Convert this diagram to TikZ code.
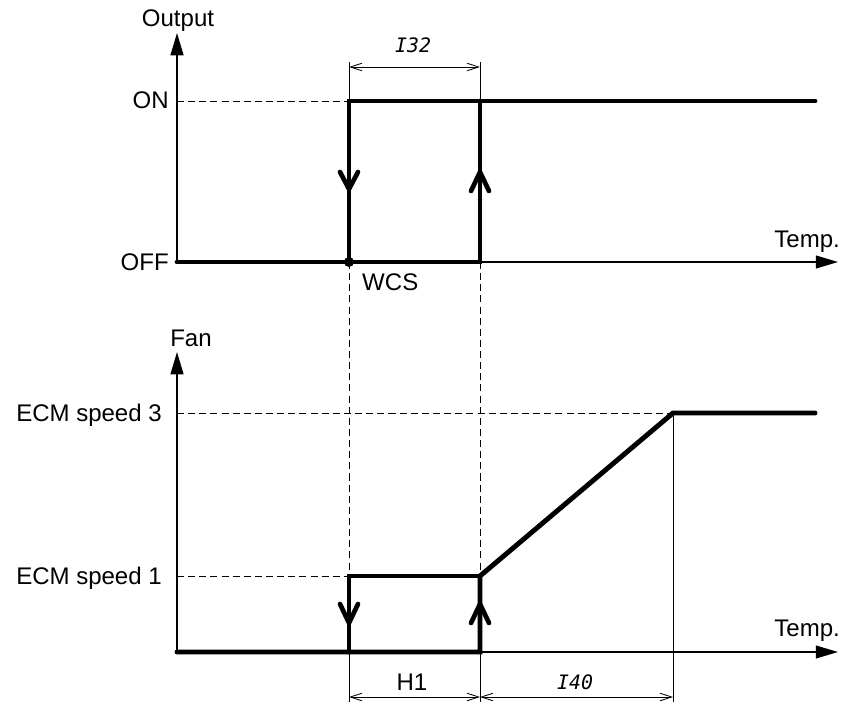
\documentclass[tikz,border=0pt]{standalone}
\usepackage{fontspec}
\setmainfont{Liberation Sans}
\newfontfamily\segfont{DejaVu Sans Mono}
\usetikzlibrary{arrows.meta}
\begin{document}
\begin{tikzpicture}[x=0.03cm, y=-0.03cm,
    lbl/.style={font=\fontsize{20.5}{24}\selectfont, inner sep=0pt},
    par/.style={font=\segfont\itshape\fontsize{17}{20}\selectfont, inner sep=0pt},
    axis/.style={line width=1.3pt, -{Triangle[length=19pt, width=11pt]}},
    sig/.style={line width=4.2pt, line cap=round},
    vee/.style={line width=4pt, line cap=round, line join=round},
    guide/.style={line width=0.8pt, dash pattern=on 6pt off 3.5pt},
    ext/.style={line width=0.7pt},
    dim/.style={line width=0.7pt, {Straight Barb[length=10pt, width=6.5pt]}-{Straight Barb[length=10pt, width=6.5pt]}}
]
\useasboundingbox (0,0) rectangle (849,702);
% upper chart
\coordinate (o0) at (177,262);
\coordinate (on0) at (177,101);
\coordinate (w) at (349,262);
\coordinate (won) at (349,101);
\coordinate (h) at (480,262);
\coordinate (hon) at (480,101);
\coordinate (onend) at (815,101);
\coordinate (otop) at (177,33);
\coordinate (oright) at (838,262);
\coordinate (d1) at (349,67);
\coordinate (d2) at (480,67);
\draw[guide] (on0) -- (won);
\draw[axis] (o0) -- (otop);
\draw[axis] (o0) -- (oright);
\draw[sig] (o0) -- (h) -- (hon);
\draw[sig] (w) -- (won) -- (onend);
\draw[vee] (340,172) -- (349,189) -- (358,172);
\draw[vee] (471,191) -- (480,172) -- (489,191);
\fill (w) circle[radius=5];
\draw[ext] (349,62) -- (won);
\draw[ext] (480,62) -- (hon);
\draw[dim] (d1) -- (d2);
\node[lbl, anchor=base] (output) at (178,27) {Output};
\node[lbl, anchor=base east] (on) at (169,108.5) {ON};
\node[lbl, anchor=base east] (off) at (169,270.5) {OFF};
\node[lbl, anchor=base east] (temp1) at (840,247) {Temp.};
\node[lbl, anchor=base west] (wcs) at (362,290) {WCS};
\node[par, anchor=base] (i32) at (413,53) {I32};
% lower chart
\coordinate (f0) at (177,652);
\coordinate (s3) at (177,413);
\coordinate (s1) at (177,576);
\coordinate (fw) at (349,652);
\coordinate (fws) at (349,576);
\coordinate (fh) at (480,652);
\coordinate (fhs) at (480,576);
\coordinate (top3) at (673,413);
\coordinate (end3) at (815,413);
\coordinate (ftop) at (177,352);
\coordinate (fright) at (838,652);
\coordinate (e1) at (349,697);
\coordinate (e2) at (480,697);
\coordinate (e3) at (673,697);
\draw[guide] (s3) -- (top3);
\draw[guide] (s1) -- (fws);
\draw[guide] (w) -- (fws);
\draw[guide] (h) -- (fhs);
\draw[axis] (f0) -- (ftop);
\draw[axis] (f0) -- (fright);
\draw[ext] (fw) -- (349,702);
\draw[ext] (fh) -- (480,702);
\draw[ext] (top3) -- (673,702);
\draw[sig] (f0) -- (fh) -- (fhs) -- (top3) -- (end3);
\draw[sig] (fw) -- (fws) -- (fhs);
\draw[vee] (340,604) -- (349,623) -- (358,604);
\draw[vee] (471,623) -- (480,604) -- (489,623);
\draw[dim] (e1) -- (e2);
\draw[dim] (e2) -- (e3);
\node[lbl, anchor=base] (fan) at (191,346) {Fan};
\node[lbl, anchor=base east] (ecm3) at (162,421) {ECM speed 3};
\node[lbl, anchor=base east] (ecm1) at (162,584.5) {ECM speed 1};
\node[lbl, anchor=base east] (temp2) at (840,636) {Temp.};
\node[lbl, anchor=base] (h1) at (412,690) {H1};
\node[par, anchor=base] (i40) at (575,689) {I40};
\end{tikzpicture}
\end{document}
